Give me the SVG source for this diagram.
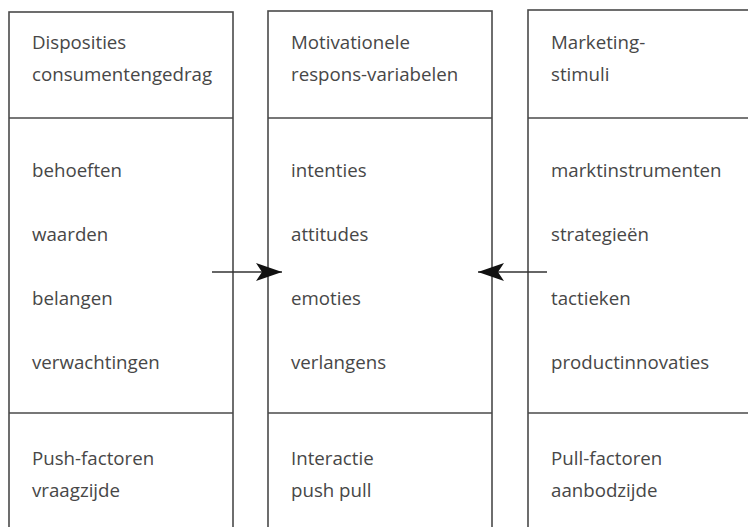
<svg xmlns="http://www.w3.org/2000/svg" width="748" height="527" viewBox="0 0 748 527">
<style>
.box{fill:#fff;stroke:#4a4a4a;stroke-width:1.6}
.div{stroke:#4a4a4a;stroke-width:1.6}
text{font-family:"Open Sans","Noto Sans",sans-serif;font-size:18.7px;fill:#474747}
.con{stroke:#333;stroke-width:1.5;fill:none}
</style>
<defs>
<marker id="ah" markerUnits="userSpaceOnUse" markerWidth="30" markerHeight="22" refX="26" refY="11" orient="auto" overflow="visible">
<path d="M0,2 L26,11 L0,20 L6,11 Z" fill="#111"/>
</marker>
</defs>
<rect width="748" height="527" fill="#fff"/>
<g id="col-disposities">
<rect class="box" x="9" y="12" width="224" height="530"/>
<line class="div" x1="9" y1="118" x2="233" y2="118"/>
<line class="div" x1="9" y1="413" x2="233" y2="413"/>
<text x="32" y="49">Disposities</text>
<text x="32" y="81">consumentengedrag</text>
<text x="32" y="177">behoeften</text>
<text x="32" y="241">waarden</text>
<text x="32" y="305">belangen</text>
<text x="32" y="369">verwachtingen</text>
<text x="32" y="465">Push-factoren</text>
<text x="32" y="497">vraagzijde</text>
</g>
<g id="col-motivationele">
<rect class="box" x="268" y="11" width="224" height="530"/>
<line class="div" x1="268" y1="118" x2="492" y2="118"/>
<line class="div" x1="268" y1="413" x2="492" y2="413"/>
<text x="291" y="49">Motivationele</text>
<text x="291" y="81">respons-variabelen</text>
<text x="291" y="177">intenties</text>
<text x="291" y="241">attitudes</text>
<text x="291" y="305">emoties</text>
<text x="291" y="369">verlangens</text>
<text x="291" y="465">Interactie</text>
<text x="291" y="497">push pull</text>
</g>
<g id="col-marketing">
<rect class="box" x="528" y="10" width="240" height="530"/>
<line class="div" x1="528" y1="118" x2="748" y2="118"/>
<line class="div" x1="528" y1="413" x2="748" y2="413"/>
<text x="551" y="49">Marketing-</text>
<text x="551" y="81">stimuli</text>
<text x="551" y="177">marktinstrumenten</text>
<text x="551" y="241">strategieën</text>
<text x="551" y="305">tactieken</text>
<text x="551" y="369">productinnovaties</text>
<text x="551" y="465">Pull-factoren</text>
<text x="551" y="497">aanbodzijde</text>
</g>
<g id="connectors">
<line class="con" x1="212" y1="272" x2="282" y2="272" marker-end="url(#ah)"/>
<line class="con" x1="547" y1="272" x2="478" y2="272" marker-end="url(#ah)"/>
</g>
</svg>
